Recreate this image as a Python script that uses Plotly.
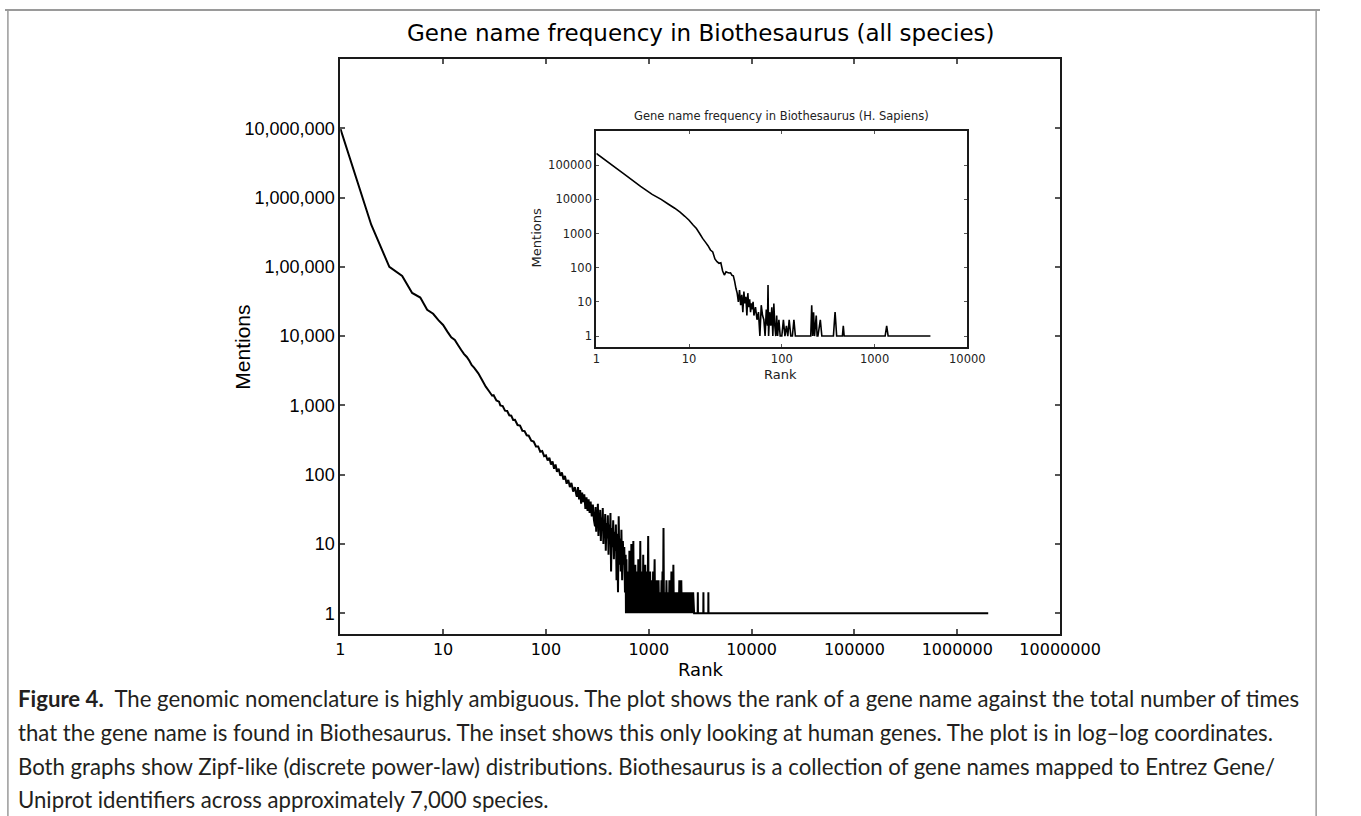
import plotly.graph_objects as go

W, H = 1361, 816

# ---------------- data: main chart (all species) ----------------
# smooth head of the curve
head_rank = [1, 2, 3, 4, 5, 6, 7, 8, 9, 10, 11, 12, 13, 14, 15, 16, 17, 18, 19, 20, 22, 24, 26]
head_mentions = [10000000, 405000, 100000, 74000, 42000, 36000, 24000, 21000, 17000, 14500, 11600,
                 9600, 8800, 7400, 6300, 5500, 5000, 4400, 3800, 3500, 2900, 2300, 1860]
# straight power-law section with growing jitter
mid_rank = [28, 30, 31, 33, 35, 36, 38, 40, 42, 44, 46, 48, 50, 53, 56, 59, 62, 65, 68, 72, 76, 80,
            84, 88, 92, 96,
            100, 104, 108, 112, 116, 120, 124, 128, 133, 138, 143, 148, 153, 159, 165, 171, 177,
            184, 191, 198,
            200, 205, 210, 215, 220, 225, 230, 236, 242, 248, 254, 260, 266, 272, 279, 286, 293]
mid_mentions = [1600, 1380, 1400, 1180, 1130, 1000, 980, 840, 830, 720, 710, 615, 620, 520, 510,
                430, 425, 370, 365, 310, 300, 255, 255, 215, 220, 185,
                190, 160, 175, 140, 155, 122, 140, 110, 122, 96, 108, 85, 96, 74, 84, 66, 76,
                57, 66, 50,
                48, 66, 44, 60, 38, 55, 40, 52, 32, 47, 30, 44, 28, 41, 25, 37, 22]
# noisy section
noisy_rank = [300, 304, 308, 312, 316, 320, 324, 328, 332, 337, 342, 347, 352, 357, 362, 367, 372,
              377, 382, 388, 394, 400, 406, 412, 418, 424, 430, 437, 444, 451, 458, 465, 472, 479,
              486, 494, 502, 510, 518, 526, 534, 542, 551, 560, 569, 578, 587, 596]
noisy_mentions = [18, 34, 15, 29, 20, 38, 13, 26, 17, 31, 11, 24, 16, 33, 10, 22, 14,
                  27, 8, 20, 12, 26, 7, 19, 11, 28, 4, 17, 9, 22, 6, 15, 8, 19,
                  3, 14, 2, 25, 5, 12, 4, 16, 3, 11, 5, 9, 2, 7]
# dense 1-2 band (names mentioned once or twice)
band_rank = [600, 607, 613, 620, 627, 634, 641, 648, 655, 662,
             670, 677, 685, 692, 700, 708, 716, 724, 732, 740,
             748, 756, 765, 773, 782, 791, 800, 809, 818, 827,
             836, 845, 855, 864, 874, 883, 893, 903, 913, 923,
             934, 944, 955, 965, 976, 987, 998, 1009, 1020, 1031,
             1043, 1054, 1066, 1078, 1090, 1102, 1115, 1127, 1140, 1152,
             1165, 1178, 1191, 1204, 1218, 1231, 1245, 1259, 1273, 1287,
             1301, 1315, 1330, 1345, 1360, 1375, 1391, 1406, 1422, 1438,
             1454, 1470, 1486, 1502, 1519, 1536, 1553, 1570, 1588, 1606,
             1624, 1642, 1660, 1678, 1697, 1716, 1735, 1754, 1774, 1794,
             1814, 1834, 1854, 1875, 1896, 1917, 1938, 1960, 1982, 2004,
             2026, 2048, 2071, 2094, 2118, 2142, 2165, 2189, 2214, 2238,
             2263, 2288, 2314, 2340, 2366, 2392, 2419, 2446, 2473, 2500,
             2528, 2556, 2585, 2614, 2643, 2672, 2702]
band_mentions = [1, 6, 1, 3, 2, 4, 1, 8, 2, 5,
                 1, 10, 1, 4, 2, 11, 1, 3, 1, 5,
                 2, 4, 1, 3, 1, 6, 2, 4, 1, 11,
                 1, 3, 2, 4, 1, 7, 1, 3, 2, 5,
                 1, 3, 1, 4, 2, 13, 1, 3, 1, 4,
                 1, 2, 1, 3, 1, 4, 1, 2, 6, 1,
                 2, 1, 3, 1, 2, 1, 3, 1, 2, 1,
                 2, 1, 3, 1, 4, 1, 17, 1, 2, 1,
                 2, 1, 3, 1, 2, 1, 2, 1, 3, 1,
                 2, 1, 4, 1, 2, 1, 5, 1, 2, 1,
                 2, 1, 2, 1, 2, 1, 2, 1, 3, 1,
                 2, 1, 3, 1, 2, 1, 2, 1, 2, 1,
                 2, 1, 2, 1, 2, 1, 2, 1, 2, 1,
                 2, 1, 2, 1, 2, 1, 2]
# long flat tail at one mention
tail_rank = [2760, 2990, 3000, 3010, 3390, 3400, 3410, 3790, 3800, 3810, 2000000]
tail_mentions = [1, 1, 2, 1, 1, 2, 1, 1, 2, 1, 1]

main_rank = head_rank + mid_rank + noisy_rank + band_rank + tail_rank
main_mentions = head_mentions + mid_mentions + noisy_mentions + band_mentions + tail_mentions

main_xticks = [1, 10, 100, 1000, 10000, 100000, 1000000, 10000000]
main_xticktext = ["1", "10", "100", "1000", "10000", "100000", "1000000", "10000000"]
main_yticks = [1, 10, 100, 1000, 10000, 100000, 1000000, 10000000]
main_yticktext = ["1", "10", "100", "1,000", "10,000", "1,00,000", "1,000,000", "10,000,000"]

# ---------------- data: inset (H. Sapiens) ----------------
inset_rank = [1, 2, 3, 4, 5, 6, 7, 8, 9, 10, 11, 12, 13, 14, 15, 16, 17, 18, 19, 20, 21, 22, 23,
              24, 25, 26, 27, 28, 29, 30, 31, 32, 33, 34, 35, 36, 37, 38, 39, 40, 41, 42, 43, 44,
              45, 46, 47, 48, 49, 50, 52, 54, 56, 58, 60, 62, 64, 66, 68, 70, 71, 72, 74, 76, 78,
              80, 82, 84, 86, 88, 90, 93, 96, 100, 104, 108, 112, 116, 120, 125, 130, 135, 140,
              145, 150, 205, 210, 215, 220, 225, 230, 235, 240, 245, 260, 270, 280, 360, 370, 375,
              380, 390, 450, 460, 470, 1250, 1300, 1350, 1400, 1450, 4000]
inset_mentions = [220000, 55000, 24000, 14000, 10000, 7200, 5500, 4200, 3200, 2450, 1800, 1400,
                  1000, 720, 560, 440, 330, 290, 180, 150, 135, 140, 80, 61, 76, 72, 70, 71, 60,
                  58, 40, 25, 18, 10, 22, 8, 16, 5, 20, 9, 14, 4, 18, 7, 12, 5, 9, 6, 10, 4, 7, 3,
                  5, 1, 8, 4, 3, 1, 6, 2, 31, 1, 5, 2, 7, 1, 9, 2, 1, 4, 1, 3, 1, 1, 3, 1, 2, 1, 3,
                  1, 1, 3, 1, 1, 1, 1, 8, 1, 5, 1, 2, 4, 1, 1, 3, 1, 1, 1, 3, 5, 3, 1, 1, 2, 1, 1,
                  1, 2, 1, 1, 1]

inset_xticks = [1, 10, 100, 1000, 10000]
inset_xticktext = ["1", "10", "100", "1000", "10000"]
inset_yticks = [1, 10, 100, 1000, 10000, 100000]
inset_yticktext = ["1", "10", "100", "1000", "10000", "100000"]

# ---------------- layout geometry (pixels) ----------------
def px_x(x):
    return x / W

def px_y(y):
    return 1 - y / H

fig = go.Figure()
fig.add_trace(go.Scatter(x=main_rank, y=main_mentions, mode="lines",
                         line=dict(color="black", width=2, simplify=False), xaxis="x", yaxis="y",
                         showlegend=False, hoverinfo="x+y"))
fig.add_trace(go.Scatter(x=inset_rank, y=inset_mentions, mode="lines",
                         line=dict(color="black", width=1.6, simplify=False), xaxis="x2", yaxis="y2",
                         showlegend=False, hoverinfo="x+y"))

dj = "DejaVu Sans"
ar = "Liberation Sans, Arial"

common = dict(type="log", showgrid=False, zeroline=False, showline=True, mirror="ticks",
              ticks="inside", linecolor="#1a1a1a", tickcolor="#555555")

fig.update_layout(
    width=W, height=H,
    margin=dict(l=0, r=0, t=0, b=0),
    paper_bgcolor="white", plot_bgcolor="white",
    xaxis=dict(common, domain=[px_x(347), px_x(1092)], range=[0, 7], anchor="y",
               tickvals=main_xticks, ticktext=main_xticktext, linewidth=2, ticklen=5, tickwidth=1.5,
               tickfont=dict(family=dj, size=16, color="black")),
    yaxis=dict(common, domain=[px_y(634), px_y(59)], range=[-0.3, 8], anchor="x",
               tickvals=main_yticks, ticktext=main_yticktext, linewidth=2, ticklen=5, tickwidth=1.5,
               tickfont=dict(family=ar, size=18, color="black")),
    xaxis2=dict(common, domain=[px_x(612), px_x(996)], range=[0, 4], anchor="y2",
                tickvals=inset_xticks, ticktext=inset_xticktext, linewidth=2, ticklen=3, tickwidth=1,
                tickfont=dict(family=dj, size=11.5, color="#222")),
    yaxis2=dict(common, domain=[px_y(347), px_y(131)], range=[-0.32, 6], anchor="x2",
                tickvals=inset_yticks, ticktext=inset_yticktext, linewidth=2, ticklen=3, tickwidth=1,
                tickfont=dict(family=dj, size=11.5, color="#222")),
)

annotations = [
    dict(text="Gene name frequency in Biothesaurus (all species)", x=px_x(720), y=px_y(33),
         font=dict(family=dj, size=23, color="black")),
    dict(text="Rank", x=px_x(720), y=px_y(669), font=dict(family=dj, size=18, color="black")),
    dict(text="Mentions", x=px_x(245), y=px_y(347), textangle=-90,
         font=dict(family=ar, size=21, color="black")),
    dict(text="Gene name frequency in Biothesaurus (H. Sapiens)", x=px_x(804), y=px_y(116),
         font=dict(family=dj, size=11.5, color="#222")),
    dict(text="Rank", x=px_x(803), y=px_y(375), font=dict(family=dj, size=13, color="#222")),
    dict(text="Mentions", x=px_x(550), y=px_y(238), textangle=-90,
         font=dict(family=dj, size=13, color="#222")),
]
for a in annotations:
    a.update(xref="paper", yref="paper", showarrow=False, xanchor="center", yanchor="middle")

caption = [
    "<b>Figure 4.</b>  The genomic nomenclature is highly ambiguous. The plot shows the rank of a gene name against the total number of times",
    "that the gene name is found in Biothesaurus. The inset shows this only looking at human genes. The plot is in log\u2013log coordinates.",
    "Both graphs show Zipf-like (discrete power-law) distributions. Biothesaurus is a collection of gene names mapped to Entrez Gene/",
    "Uniprot identifiers across approximately 7,000 species.",
]
cap_y = [698, 732, 766, 799]
for line, yy in zip(caption, cap_y):
    annotations.append(dict(text=line, x=px_x(12), y=px_y(yy), xref="paper", yref="paper",
                            showarrow=False, xanchor="left", yanchor="middle", borderpad=0,
                            font=dict(family="Lato", size=22.2, color="#231f20")))

fig.update_layout(annotations=annotations)

# frame around the figure
fig.add_shape(type="line", xref="paper", yref="paper", x0=0, x1=1, y0=px_y(10), y1=px_y(10),
              line=dict(color="#9a9a9a", width=2))
fig.add_shape(type="line", xref="paper", yref="paper", x0=px_x(3), x1=px_x(3), y0=px_y(10), y1=0,
              line=dict(color="#9a9a9a", width=1.5))
fig.add_shape(type="line", xref="paper", yref="paper", x0=px_x(1357), x1=px_x(1357), y0=px_y(10), y1=0,
              line=dict(color="#9a9a9a", width=1.5))

# remove the default page margin so the 1361x816 figure fills the window exactly
fig.write_html("out.html", config={"displayModeBar": False},
               post_script="document.body.style.margin='0';document.body.style.overflow='hidden';")
